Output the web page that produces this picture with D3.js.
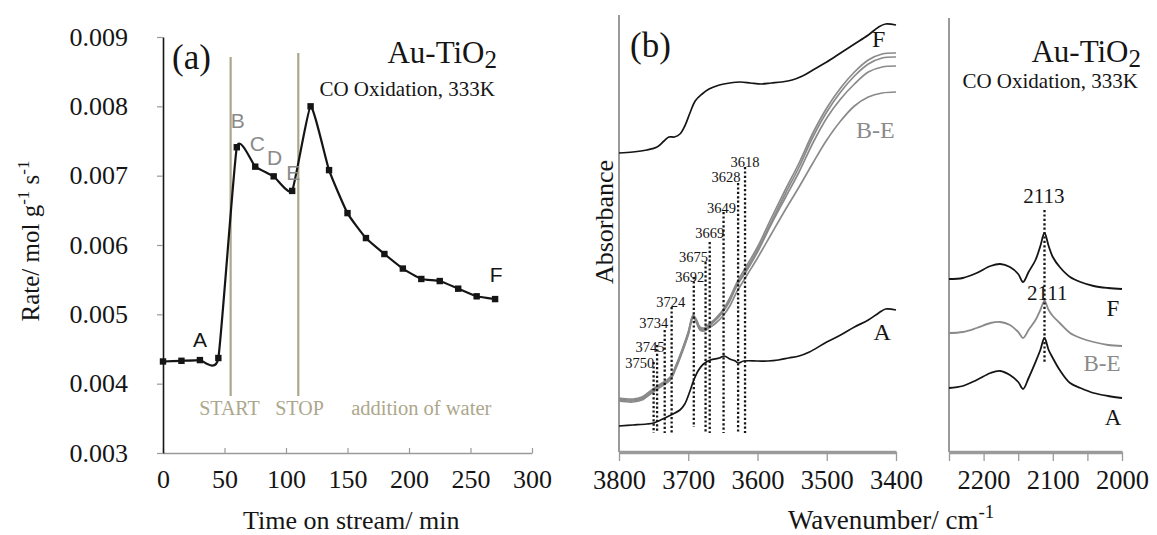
<!DOCTYPE html>
<html><head><meta charset="utf-8">
<script src="https://cdn.jsdelivr.net/npm/d3@7"></script>
<style>
body{margin:0;background:#fff}
svg{display:block}
text{font-family:"Liberation Serif","Times New Roman",serif;fill:#151515}
</style></head><body>
<svg id="chart" width="1157" height="535"></svg>
<script>
// ---------- Panel (a): rate vs time ----------
const timeMin = [0,15,30,45,60,75,90,105,120,135,150,165,180,195,210,225,240,255,270];
const rate = [0.00432,0.00433,0.00434,0.00437,0.00741,0.00713,0.00699,0.00678,0.00800,0.00708,0.00646,0.00610,0.00587,0.00566,0.00551,0.00548,0.00537,0.00526,0.00522];
const rateTicks = [0.003,0.004,0.005,0.006,0.007,0.008,0.009];
const timeTicks = [0,50,100,150,200,250,300];
const eventTimes = [55,110];
const eventNames = ["START","STOP","addition of water"];
const pointNames = ["A","B","C","D","E","F"];
const pointTimes = [30,60,75,90,105,270];

// ---------- Panel (b): OH region spectra ----------
const wnTicksB = [3800,3700,3600,3500,3400];
const wnF = [3800,3780,3760,3745,3735,3728,3720,3712,3705,3697,3690,3680,3670,3655,3640,3625,3610,3595,3580,3565,3550,3535,3520,3500,3480,3460,3440,3425,3415,3400];
const absF = [0.299,0.300,0.302,0.305,0.311,0.315,0.315,0.318,0.326,0.340,0.351,0.358,0.363,0.367,0.369,0.370,0.369,0.368,0.369,0.370,0.372,0.376,0.382,0.390,0.399,0.408,0.417,0.425,0.428,0.427];
const wnBE = [3800,3780,3767,3751,3740,3726,3717,3708,3700,3693,3688,3683,3677,3670,3660,3650,3640,3630,3615,3600,3580,3560,3540,3520,3500,3480,3460,3440,3420,3400];
const absB = [0.054,0.053,0.055,0.063,0.068,0.075,0.088,0.104,0.120,0.137,0.132,0.125,0.124,0.128,0.134,0.142,0.154,0.169,0.187,0.205,0.234,0.262,0.289,0.319,0.344,0.364,0.380,0.392,0.398,0.399];
const absC = [0.053,0.052,0.054,0.062,0.067,0.074,0.087,0.103,0.119,0.136,0.131,0.124,0.123,0.127,0.133,0.141,0.153,0.167,0.184,0.202,0.230,0.258,0.285,0.315,0.340,0.360,0.376,0.388,0.394,0.395];
const absD = [0.052,0.051,0.053,0.061,0.066,0.073,0.086,0.102,0.118,0.135,0.130,0.123,0.122,0.126,0.132,0.140,0.151,0.166,0.182,0.200,0.228,0.254,0.280,0.309,0.334,0.353,0.368,0.380,0.385,0.386];
const absE = [0.051,0.050,0.052,0.060,0.065,0.072,0.085,0.101,0.117,0.134,0.129,0.122,0.121,0.124,0.129,0.136,0.146,0.160,0.177,0.194,0.218,0.242,0.265,0.289,0.312,0.331,0.346,0.355,0.359,0.360];
const wnA = [3800,3780,3760,3750,3740,3725,3712,3705,3698,3692,3685,3678,3668,3655,3648,3640,3632,3628,3620,3600,3585,3570,3555,3540,3525,3500,3480,3460,3440,3425,3415,3400];
const absA = [0.026,0.027,0.028,0.029,0.032,0.037,0.042,0.048,0.060,0.072,0.082,0.088,0.092,0.094,0.096,0.093,0.091,0.089,0.091,0.091,0.091,0.092,0.094,0.096,0.100,0.110,0.117,0.125,0.132,0.139,0.143,0.142];
const peakWn = [3750,3745,3734,3724,3692,3675,3669,3649,3628,3618];
const peakTop = [0.090,0.107,0.122,0.145,0.175,0.190,0.210,0.240,0.269,0.285];
const peakBottom = [0.019,0.019,0.019,0.019,0.025,0.019,0.019,0.019,0.019,0.019];

// ---------- Panel (c): CO region spectra ----------
const wnTicksC = [2250,2200,2150,2100,2050,2000];
const wnCO = [2250,2230,2210,2190,2176,2162,2150,2143,2135,2125,2118,2112,2106,2100,2090,2075,2060,2041,2020,2000];
const coF = [0.173,0.174,0.179,0.186,0.188,0.185,0.178,0.170,0.180,0.192,0.206,0.219,0.206,0.195,0.185,0.175,0.170,0.166,0.164,0.163];
const coBE = [0.119,0.120,0.124,0.129,0.130,0.127,0.120,0.114,0.122,0.132,0.142,0.151,0.142,0.136,0.129,0.119,0.114,0.110,0.107,0.106];
const coA = [0.064,0.066,0.072,0.079,0.081,0.077,0.070,0.063,0.074,0.090,0.102,0.114,0.102,0.094,0.082,0.069,0.064,0.059,0.056,0.054];
const coPeakWn = 2112;

// ---------- drawing ----------
const svg = d3.select("#chart");
const BLACK = "#151515", GRAY = "#8a8a8a", AXIS = "#9a9a9a", KHAKI = "#aca78c";

function styleAxis(g, size){
  g.attr("font-family",'"Liberation Serif","Times New Roman",serif').attr("font-size",size);
  g.selectAll("text").attr("fill",BLACK);
}

// Panel a
const xa = d3.scaleLinear().domain([0,300]).range([163,532]);
const ya = d3.scaleLinear().domain([0.003,0.009]).range([453,37]);
const gA = svg.append("g");

const axA_x = gA.append("g").attr("transform",`translate(0,${ya(0.003)})`)
  .call(d3.axisBottom(xa).tickValues(timeTicks).tickFormat(d3.format("d")).tickSizeInner(-5).tickSizeOuter(0).tickPadding(17));
styleAxis(axA_x,26);
axA_x.select(".domain").attr("stroke",AXIS).attr("stroke-width",1.5);
axA_x.selectAll(".tick line").attr("stroke",AXIS).attr("stroke-width",1.2);

const axA_y = gA.append("g").attr("transform",`translate(${xa(0)},0)`)
  .call(d3.axisLeft(ya).tickValues(rateTicks).tickFormat(d3.format(".3f")).tickSizeInner(6).tickSizeOuter(0).tickPadding(29));
styleAxis(axA_y,26);
axA_y.select(".domain").attr("stroke",BLACK).attr("stroke-width",1.6);
axA_y.selectAll(".tick line").attr("stroke",AXIS).attr("stroke-width",1.2);

// event lines
const evTop = [57,53];
eventTimes.forEach((t,i)=>{
  gA.append("line").attr("x1",xa(t)).attr("x2",xa(t)).attr("y1",evTop[i]).attr("y2",396)
    .attr("stroke",KHAKI).attr("stroke-width",2.2);
});
const evLabelX = [54,111,210];
eventNames.forEach((n,i)=>{
  gA.append("text").attr("x",xa(evLabelX[i])).attr("y",415).attr("text-anchor","middle")
    .attr("font-size",n.length>5?20.5:20).style("fill",KHAKI).text(n);
});

// curve and markers
const ptsA = timeMin.map((t,i)=>[t,rate[i]]);
gA.append("path").datum(ptsA)
  .attr("d",d3.line().x(d=>xa(d[0])).y(d=>ya(d[1])).curve(d3.curveCardinal.tension(0.55)))
  .attr("fill","none").attr("stroke",BLACK).attr("stroke-width",2.2);
gA.selectAll("rect.mk").data(ptsA).join("rect").attr("class","mk")
  .attr("x",d=>xa(d[0])-3.2).attr("y",d=>ya(d[1])-3.2).attr("width",6.4).attr("height",6.4).attr("fill",BLACK);

const ptLabelOff = [[0,-13],[1,-19],[2,-16],[1,-11],[1,-11],[1,-17]];
pointNames.forEach((n,i)=>{
  const idx = timeMin.indexOf(pointTimes[i]);
  const gray = (n!=="A" && n!=="F");
  gA.append("text").attr("x",xa(pointTimes[i])+ptLabelOff[i][0]).attr("y",ya(rate[idx])+ptLabelOff[i][1])
    .attr("text-anchor","middle").attr("font-size",21)
    .style("font-family",'"Liberation Sans",Arial,sans-serif').style("fill",gray?GRAY:BLACK).text(n);
});

gA.append("text").attr("x",172).attr("y",69).attr("font-size",35).text("(a)");
function auTitle(g,xEnd,y){
  const t = g.append("text").attr("x",xEnd).attr("y",y).attr("text-anchor","end").attr("font-size",31);
  t.append("tspan").text("Au-TiO");
  t.append("tspan").attr("dy",5).attr("font-size",25).text("2");
}
auTitle(gA,497,63);
gA.append("text").attr("x",495).attr("y",96).attr("text-anchor","end").attr("font-size",21).text("CO Oxidation, 333K");

// axis titles a
const yt = gA.append("text").attr("transform","translate(39,241) rotate(-90)").attr("text-anchor","middle").attr("font-size",25);
yt.append("tspan").text("Rate/ mol g");
yt.append("tspan").attr("dy",-10).attr("font-size",17).text("-1");
yt.append("tspan").attr("dy",10).text(" s");
yt.append("tspan").attr("dy",-10).attr("font-size",17).text("-1");
gA.append("text").attr("x",243).attr("y",529).attr("font-size",26).text("Time on stream/ min");

// Panel b
const xb = d3.scaleLinear().domain([3800,3400]).range([619,896]);
const yb = d3.scaleLinear().domain([0,0.44]).range([452,12]);
const gB = svg.append("g");
gB.append("line").attr("x1",xb(3800)).attr("x2",xb(3800)).attr("y1",15).attr("y2",yb(0)).attr("stroke",AXIS).attr("stroke-width",2);
const axB = gB.append("g").attr("transform",`translate(0,${yb(0)})`)
  .call(d3.axisBottom(xb).tickValues(wnTicksB).tickFormat(d3.format("d")).tickSizeInner(9).tickSizeOuter(0).tickPadding(9));
styleAxis(axB,26.5);
axB.select(".domain").attr("stroke",AXIS).attr("stroke-width",3.5);
axB.selectAll(".tick line").attr("stroke",AXIS).attr("stroke-width",1.3);

const lineB = d3.line().x(d=>xb(d[0])).y(d=>yb(d[1])).curve(d3.curveCatmullRom.alpha(0.5));
[absE,absD,absC,absB].forEach(arr=>{
  gB.append("path").datum(wnBE.map((w,i)=>[w,arr[i]])).attr("d",lineB)
    .attr("fill","none").attr("stroke",GRAY).attr("stroke-width",1.7);
});
gB.append("path").datum(wnF.map((w,i)=>[w,absF[i]])).attr("d",lineB).attr("fill","none").attr("stroke",BLACK).attr("stroke-width",1.7);
gB.append("path").datum(wnA.map((w,i)=>[w,absA[i]])).attr("d",lineB).attr("fill","none").attr("stroke",BLACK).attr("stroke-width",1.7);

const peakLabelOff = [[-14,6],[-7,7],[-11,-2],[-1,0],[-4,5],[-12,0],[0,-4],[-2,1],[-12,-1],[0,0]];
peakWn.forEach((w,i)=>{
  gB.append("line").attr("x1",xb(w)).attr("x2",xb(w)).attr("y1",yb(peakTop[i])).attr("y2",yb(peakBottom[i]))
    .attr("stroke",BLACK).attr("stroke-width",2.3).attr("stroke-dasharray","2.2,2.2");
  gB.append("text").attr("x",xb(w)+peakLabelOff[i][0]).attr("y",yb(peakTop[i])+peakLabelOff[i][1])
    .attr("text-anchor","middle").attr("font-size",14.5).text(w);
});

gB.append("text").attr("x",xb(3425)).attr("y",yb(0.405)).attr("text-anchor","middle").attr("font-size",24).text("F");
gB.append("text").attr("x",xb(3430)).attr("y",yb(0.314)).attr("text-anchor","middle").attr("font-size",24).style("fill",GRAY).text("B-E");
gB.append("text").attr("x",xb(3420)).attr("y",yb(0.112)).attr("text-anchor","middle").attr("font-size",24).text("A");
gB.append("text").attr("x",630).attr("y",57).attr("font-size",35).text("(b)");
gB.append("text").attr("transform","translate(613,222) rotate(-90)").attr("text-anchor","middle").attr("font-size",26).text("Absorbance");
const xt = gB.append("text").attr("x",788).attr("y",529).attr("font-size",27);
xt.append("tspan").text("Wavenumber/ cm");
xt.append("tspan").attr("dy",-11).attr("font-size",19).text("-1");

// Panel c
const xc = d3.scaleLinear().domain([2250,2000]).range([949,1122]);
const gC = svg.append("g");
gC.append("line").attr("x1",xc(2250)).attr("x2",xc(2250)).attr("y1",18).attr("y2",yb(0)).attr("stroke",AXIS).attr("stroke-width",2);
const axC = gC.append("g").attr("transform",`translate(0,${yb(0)})`)
  .call(d3.axisBottom(xc).tickValues(wnTicksC).tickFormat(d=>d%100===0?d:"").tickSizeInner(9).tickSizeOuter(0).tickPadding(9));
styleAxis(axC,26.5);
axC.select(".domain").attr("stroke",AXIS).attr("stroke-width",3.5);
axC.selectAll(".tick line").attr("stroke",AXIS).attr("stroke-width",1.3);

const lineC = d3.line().x(d=>xc(d[0])).y(d=>yb(d[1])).curve(d3.curveCatmullRom.alpha(0.5));
[[coF,BLACK],[coBE,GRAY],[coA,BLACK]].forEach(([arr,col])=>{
  gC.append("path").datum(wnCO.map((w,i)=>[w,arr[i]])).attr("d",lineC)
    .attr("fill","none").attr("stroke",col).attr("stroke-width",1.8);
});
gC.append("line").attr("x1",xc(coPeakWn)).attr("x2",xc(coPeakWn)).attr("y1",yb(0.242)).attr("y2",yb(0.088))
  .attr("stroke",BLACK).attr("stroke-width",2.3).attr("stroke-dasharray","2.2,2.2");
gC.append("text").attr("x",xc(2113)).attr("y",yb(0.249)).attr("text-anchor","middle").attr("font-size",21).text("2113");
gC.append("text").attr("x",xc(2108)).attr("y",yb(0.152)).attr("text-anchor","middle").attr("font-size",21).text("2111");
gC.append("text").attr("x",xc(2013)).attr("y",yb(0.136)).attr("text-anchor","middle").attr("font-size",23).text("F");
gC.append("text").attr("x",xc(2029)).attr("y",yb(0.081)).attr("text-anchor","middle").attr("font-size",23).style("fill",GRAY).text("B-E");
gC.append("text").attr("x",xc(2013)).attr("y",yb(0.027)).attr("text-anchor","middle").attr("font-size",23).text("A");
auTitle(gC,1141,62);
gC.append("text").attr("x",1138).attr("y",88).attr("text-anchor","end").attr("font-size",21).text("CO Oxidation, 333K");
</script>
</body></html>
